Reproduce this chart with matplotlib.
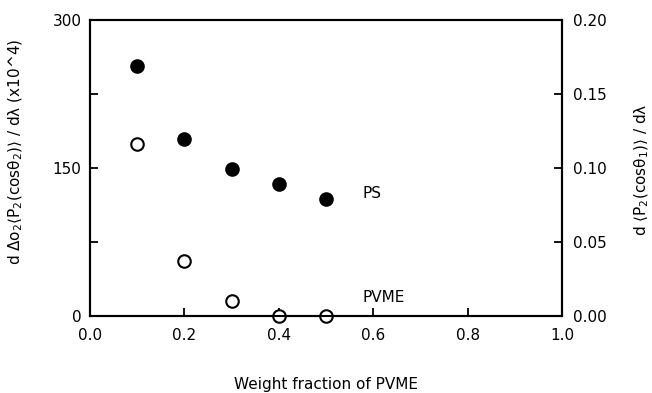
import numpy as np
import matplotlib
matplotlib.use("Agg")
import matplotlib.pyplot as plt
from matplotlib.ticker import MultipleLocator

plt.rcParams['font.family'] = ['DejaVu Sans']
plt.rcParams['mathtext.default'] = 'regular'

# data
frac = [0.1, 0.2, 0.3, 0.4, 0.5]
ps_left = [253, 179, 149, 134, 119]          # left axis, x10^-4
pvme_right = [0.116, 0.037, 0.010, 0.0, 0.0]  # right axis

fig = plt.figure(figsize=(6.52, 3.93), dpi=100)
ax = fig.add_axes([90/652, 1-316/393, 472/652, 296/393])
ax2 = ax.twinx()

ax.plot(frac, ps_left, 'o', color='black', ms=9.5, clip_on=False, zorder=5)
ax2.plot(frac, pvme_right, 'o', mfc='white', mec='black', ms=9, mew=1.5,
         clip_on=False, zorder=1)

ax.set_xlim(0, 1.0)
ax.set_ylim(0, 300)
ax2.set_ylim(0, 0.20)

ax.xaxis.set_major_locator(MultipleLocator(0.2))
ax.yaxis.set_major_locator(MultipleLocator(150))
ax.yaxis.set_minor_locator(MultipleLocator(75))
ax2.yaxis.set_major_locator(MultipleLocator(0.05))
ax.xaxis.set_major_formatter(plt.FormatStrFormatter('%.1f'))
ax2.yaxis.set_major_formatter(plt.FormatStrFormatter('%.2f'))

ax.tick_params(axis='x', direction='in', length=6, width=1.3, pad=9, labelsize=11)
ax.tick_params(axis='y', which='both', direction='in', length=6, width=1.3, pad=6, labelsize=11)
ax.tick_params(axis='y', which='both', right=False)
ax2.tick_params(axis='y', direction='in', length=6, width=1.3, pad=8, labelsize=11)

for a in (ax, ax2):
    for s in a.spines.values():
        s.set_linewidth(1.5)

ax.text(0.578, 124, 'PS', fontsize=11, va='center', ha='left')
ax.text(0.578, 19, 'PVME', fontsize=11, va='center', ha='left')

ax.set_xlabel('Weight fraction of PVME', fontsize=11)
ax.xaxis.set_label_coords(0.5, -0.206)
ax.set_ylabel(r'd $\Delta o_2\langle P_2(cos\theta_2)\rangle$ / d$\lambda$ (x10^4)', fontsize=11)
ax.yaxis.set_label_coords(-0.138, 0.554)
ax2.set_ylabel(r'd $\langle P_2(cos\theta_1)\rangle$ / d$\lambda$', fontsize=11)
ax2.yaxis.set_label_coords(1.150, 0.493)

fig.savefig('out.png', dpi=100)
